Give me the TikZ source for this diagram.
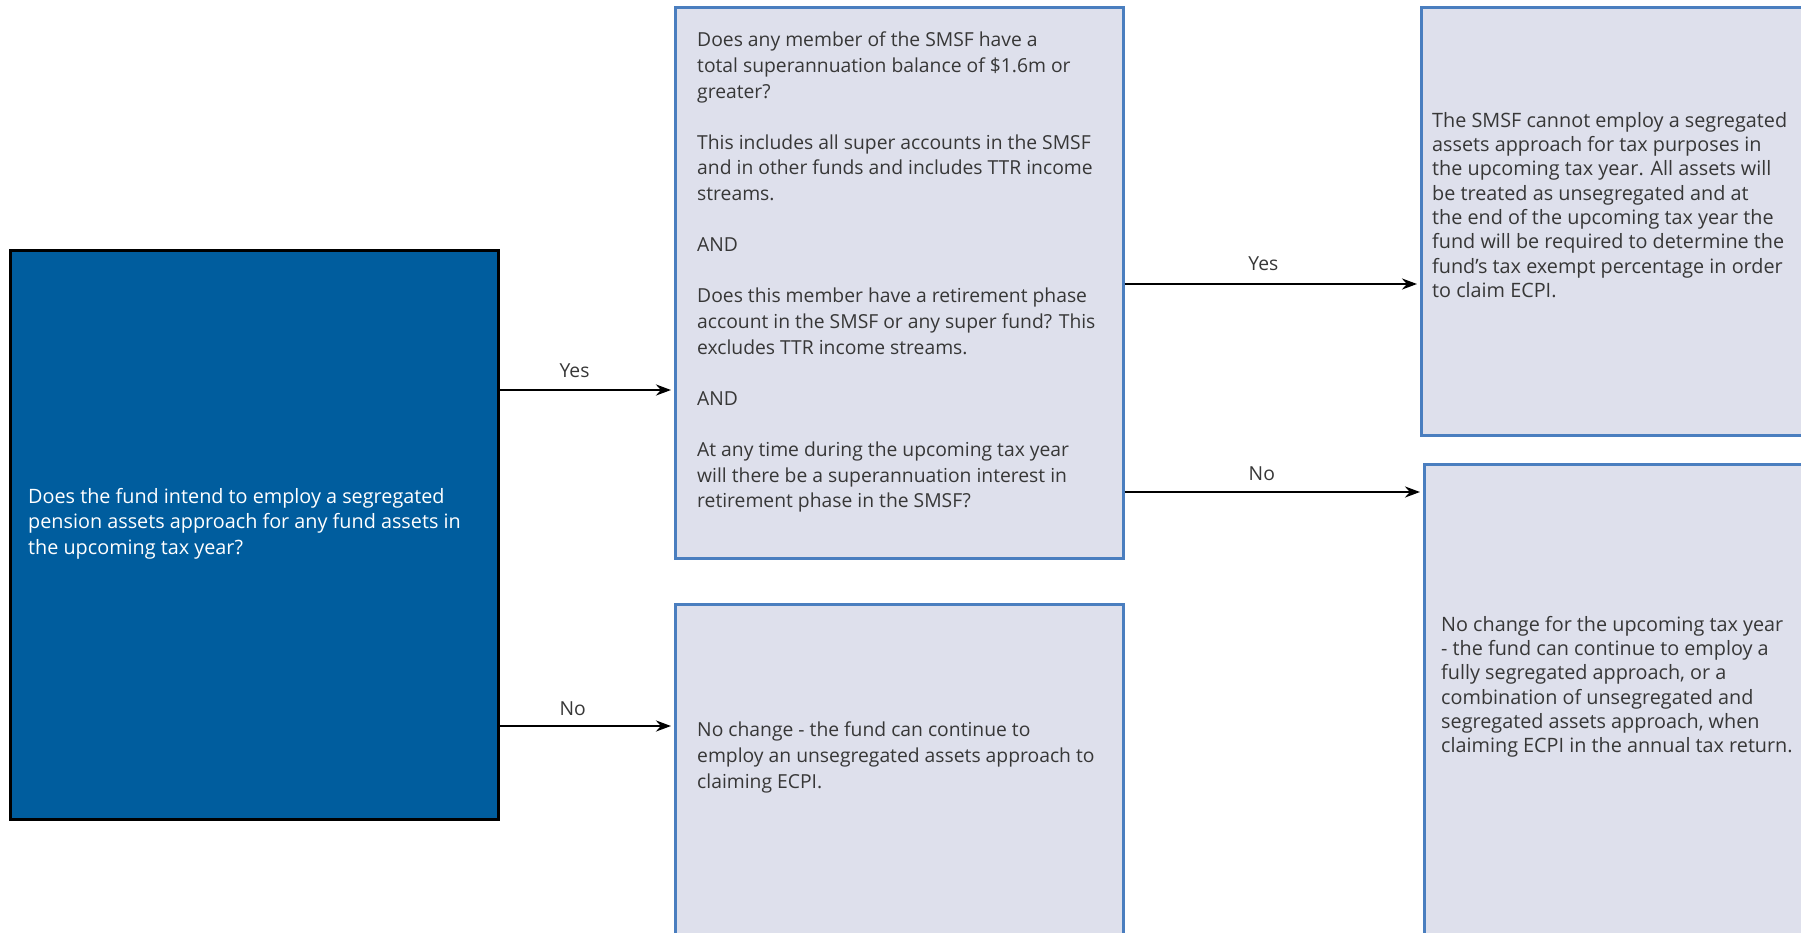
\documentclass[tikz,border=0pt]{standalone}
\usepackage{fontspec}
\setmainfont{Open Sans}
\usetikzlibrary{arrows.meta}
\definecolor{darkblue}{RGB}{0,93,158}
\definecolor{lightfill}{RGB}{222,224,236}
\definecolor{edgeblue}{RGB}{74,126,191}
\definecolor{txt}{RGB}{55,55,55}
\begin{document}
\begin{tikzpicture}[x=1pt,y=-1pt,
  qbox/.style={draw=edgeblue, fill=lightfill, line width=2.5pt, anchor=north west, inner sep=0pt},
  startbox/.style={draw=black, fill=darkblue, line width=2.5pt, anchor=north west, inner sep=0pt},
  btxt/.style={anchor=north west, inner sep=0pt, align=left, text=txt},
  regtxt/.style={btxt, font=\fontsize{19.3}{25.6}\selectfont},
  widetxt/.style={btxt, font=\fontsize{19.8}{24.3}\selectfont},
  arr/.style={-{Stealth[length=15pt,width=11pt]}, line width=2.5pt, black, shorten >=3pt},
  lbl/.style={font=\fontsize{19.3}{22}\selectfont, text=txt, inner sep=0pt}]
\useasboundingbox (0,0) rectangle (1801,932);
% boxes
\node[startbox, minimum width=488pt, minimum height=569pt] (L) at (9,249) {};
\node[qbox, minimum width=448pt, minimum height=551pt] (MT) at (674,6) {};
\node[qbox, minimum width=448pt, minimum height=345pt] (MB) at (674,603) {};
\node[qbox, minimum width=400pt, minimum height=428pt] (RT) at (1420,6) {};
\node[qbox, minimum width=400pt, minimum height=485pt] (RB) at (1423,463) {};
% texts
\node[widetxt, text=white, font=\fontsize{19.8}{25.5}\selectfont] (Lt) at (28,488) {Does the fund intend to employ a segregated\\pension assets approach for any fund assets in\\the upcoming tax year?};
\node[regtxt] (MTt) at (697,32) {Does any member of the SMSF have a\\total superannuation balance of \$1.6m or\\greater?\\[25.6pt]This includes all super accounts in the SMSF\\and in other funds and includes TTR income\\streams.\\[25.6pt]AND\\[25.6pt]Does this member have a retirement phase\\account in the SMSF or any super fund? This\\excludes TTR income streams.\\[25.6pt]AND\\[25.6pt]At any time during the upcoming tax year\\will there be a superannuation interest in\\retirement phase in the SMSF?};
\node[regtxt] (MBt) at (697,722) {No change - the fund can continue to\\employ an unsegregated assets approach to\\claiming ECPI.};
\node[widetxt] (RTt) at (1432,112) {The SMSF cannot employ a segregated\\assets approach for tax purposes in\\the upcoming tax year. All assets will\\be treated as unsegregated and at\\the end of the upcoming tax year the\\fund will be required to determine the\\fund’s tax exempt percentage in order\\to claim ECPI.};
\node[widetxt] (RBt) at (1441,616) {No change for the upcoming tax year\\- the fund can continue to employ a\\fully segregated approach, or a\\combination of unsegregated and\\segregated assets approach, when\\claiming ECPI in the annual tax return.};
% connectors
\coordinate (y1) at (0,390);
\coordinate (y2) at (0,726);
\coordinate (y3) at (0,284);
\coordinate (y4) at (0,492);
\draw[arr] (L.east |- y1) -- (MT.west |- y1) node[lbl, pos=0.43, yshift=19pt] {Yes};
\draw[arr] (L.east |- y2) -- (MB.west |- y2) node[lbl, pos=0.42, yshift=17pt] {No};
\draw[arr] (MT.east |- y3) -- (RT.west |- y3) node[lbl, pos=0.47, yshift=20pt] {Yes};
\draw[arr] (MT.east |- y4) -- (RB.west |- y4) node[lbl, pos=0.46, yshift=18pt] {No};
\end{tikzpicture}
\end{document}
